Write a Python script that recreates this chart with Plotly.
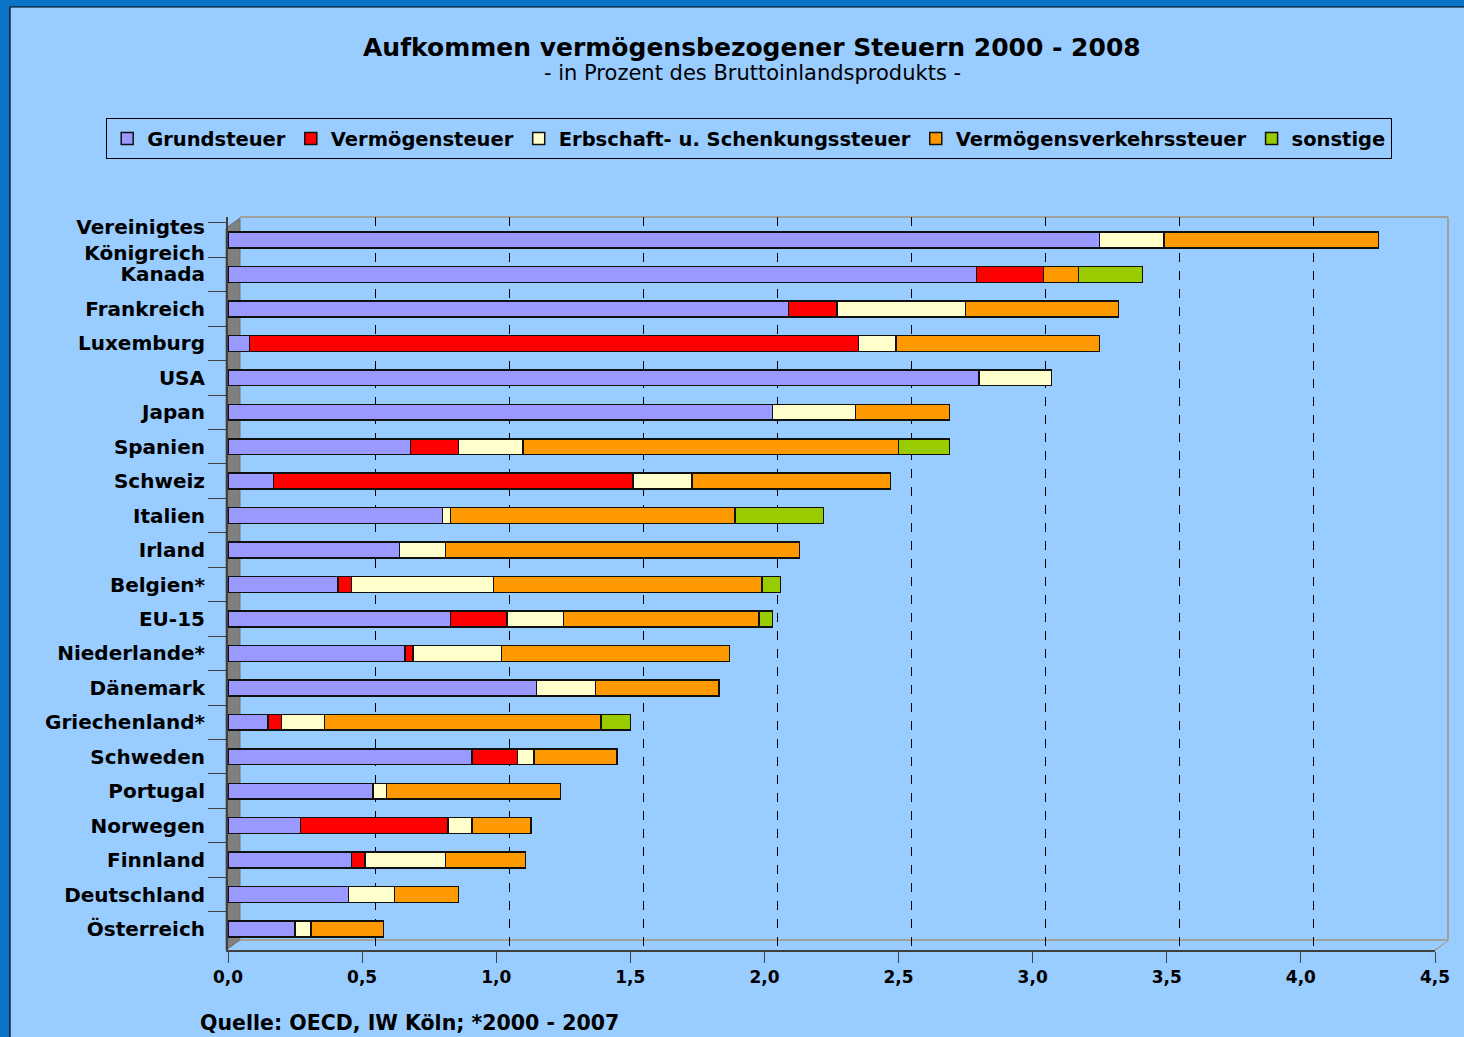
import plotly.graph_objects as go

countries = ["Vereinigtes<br>Königreich", "Kanada", "Frankreich", "Luxemburg", "USA", "Japan",
             "Spanien", "Schweiz", "Italien", "Irland", "Belgien*", "EU-15", "Niederlande*",
             "Dänemark", "Griechenland*", "Schweden", "Portugal", "Norwegen", "Finnland",
             "Deutschland", "Österreich"]

grundsteuer = [3.25, 2.79, 2.09, 0.08, 2.80, 2.03, 0.68, 0.17, 0.80, 0.64, 0.41, 0.83, 0.66,
               1.15, 0.15, 0.91, 0.54, 0.27, 0.46, 0.45, 0.25]
vermoegensteuer = [None, 0.25, 0.18, 2.27, None, None, 0.18, 1.34, None, None, 0.05, 0.21, 0.03,
                   None, 0.05, 0.17, None, 0.55, 0.05, None, None]
erbschaft = [0.24, None, 0.48, 0.14, 0.27, 0.31, 0.24, 0.22, 0.03, 0.17, 0.53, 0.21, 0.33,
             0.22, 0.16, 0.06, 0.05, 0.09, 0.30, 0.17, 0.06]
verkehr = [0.80, 0.13, 0.57, 0.76, None, 0.35, 1.40, 0.74, 1.06, 1.32, 1.00, 0.73, 0.85,
           0.46, 1.03, 0.31, 0.65, 0.22, 0.30, 0.24, 0.27]
sonstige = [None, 0.24, None, None, None, None, 0.19, None, 0.33, None, 0.07, 0.05, None,
            None, 0.11, None, None, None, None, None, None]

series_names = ["Grundsteuer", "Vermögensteuer", "Erbschaft- u. Schenkungssteuer",
                "Vermögensverkehrssteuer", "sonstige"]
series_values = [grundsteuer, vermoegensteuer, erbschaft, verkehr, sonstige]
series_colors = ["#9999FF", "#FF0000", "#FFFFCC", "#FF9900", "#99CC00"]

x_ticks = [0, 0.5, 1.0, 1.5, 2.0, 2.5, 3.0, 3.5, 4.0, 4.5]

W, H = 1464, 1037
L, R, T, B = 228, 29, 217, 87
PW, PH = W - L - R, H - T - B
FONT = "DejaVu Sans"


def px(xp):
    return (xp - L) / PW


def py(yp):
    return (H - B - yp) / PH


fig = go.Figure()
for name, vals, col in zip(series_names, series_values, series_colors):
    fig.add_trace(go.Bar(
        name=name, x=vals, y=countries, orientation="h", width=0.46,
        marker=dict(color=col, line=dict(color="#111111", width=1.5)),
    ))

# dummy trace for the offset back-wall grid axis
fig.add_trace(go.Scatter(x=[None], y=[None], xaxis="x2", showlegend=False, hoverinfo="skip"))

depth = 13 / 268.2

shapes = []
# outer dark blue frame
shapes.append(dict(type="rect", xref="paper", yref="paper", x0=px(0), x1=px(10), y0=py(H), y1=py(0),
                   fillcolor="#0A74C6", line=dict(width=0), layer="below"))
shapes.append(dict(type="rect", xref="paper", yref="paper", x0=px(0), x1=px(W), y0=py(7), y1=py(0),
                   fillcolor="#0A74C6", line=dict(width=0), layer="below"))
shapes.append(dict(type="line", xref="paper", yref="paper", x0=px(10), x1=px(10), y0=py(H), y1=py(7),
                   line=dict(color="#000000", width=1.2)))
shapes.append(dict(type="line", xref="paper", yref="paper", x0=px(10), x1=px(W), y0=py(7), y1=py(7),
                   line=dict(color="#000000", width=1.2)))
# left 3D wall
shapes.append(dict(type="path", xref="paper", yref="paper",
                   path=f"M {px(226)},{py(228)} L {px(240)},{py(218)} L {px(240)},{py(940)} L {px(226)},{py(950)} Z",
                   fillcolor="#808080", line=dict(color="#707070", width=1), layer="below"))
# back wall outline
for (x0, y0, x1, y1) in [(240, 217, 1448, 217), (1448, 217, 1448, 940), (240, 940, 1448, 940),
                         (1448, 940, 1435, 950)]:
    shapes.append(dict(type="line", xref="paper", yref="paper", x0=px(x0), y0=py(y0), x1=px(x1), y1=py(y1),
                       line=dict(color="#A0A0A0", width=2), layer="below"))
# mask grid lines below the back floor (between floor and front axis)
shapes.append(dict(type="path", xref="paper", yref="paper",
                   path=f"M {px(240)},{py(941)} L {px(1447)},{py(941)} L {px(1435)},{py(949)} L {px(229)},{py(949)} Z",
                   fillcolor="#99CCFF", line=dict(width=0), layer="below"))

annotations = [
    dict(text="<b>Aufkommen vermögensbezogener Steuern 2000 - 2008</b>", xref="paper", yref="paper",
         x=px(751.5), y=py(47), xanchor="center", yanchor="middle", showarrow=False,
         font=dict(family=FONT, size=25, color="#000000")),
    dict(text="- in Prozent des Bruttoinlandsprodukts -", xref="paper", yref="paper",
         x=px(752.5), y=py(73), xanchor="center", yanchor="middle", showarrow=False,
         font=dict(family=FONT, size=21, color="#000000")),
    dict(text="<b>Quelle: OECD, IW Köln; *2000 - 2007</b>", xref="paper", yref="paper",
         x=px(198), y=py(1023), xanchor="left", yanchor="middle", showarrow=False,
         font=dict(family=FONT, size=20.5, color="#000000")),
]

fig.update_layout(
    width=W, height=H,
    margin=dict(l=L, r=R, t=T, b=B, pad=0),
    paper_bgcolor="#99CCFF", plot_bgcolor="rgba(0,0,0,0)",
    barmode="stack", separators=", ",
    showlegend=True,
    legend=dict(orientation="h", xref="paper", yref="paper", x=px(106), y=py(118),
                xanchor="left", yanchor="top", traceorder="normal",
                bgcolor="rgba(0,0,0,0)", bordercolor="#000000", borderwidth=1.2,
                font=dict(family=FONT, size=19.5, color="#000000", weight="bold"),
                itemwidth=30),
    xaxis=dict(range=[0, 4.5], tickvals=x_ticks, tickformat=".1f", showgrid=False, zeroline=False,
               showline=True, linecolor="#404040", linewidth=2, ticks="outside", ticklen=11,
               tickcolor="#404040", tickwidth=1.2,
               tickfont=dict(family=FONT, size=17, color="#000000", weight="bold")),
    xaxis2=dict(overlaying="x", range=[-depth, 4.5 - depth], tickvals=x_ticks[1:-1], showgrid=True,
                gridcolor="#000000", griddash="dash", gridwidth=1, showticklabels=False, ticks="",
                showline=False, zeroline=False),
    yaxis=dict(type="category", categoryorder="array", categoryarray=countries,
               range=[20.61, -0.668], ticks="outside", tickson="boundaries", ticklen=18,
               tickcolor="#404040", tickwidth=1.2, showline=True, linecolor="#404040", linewidth=2,
               showgrid=False, zeroline=False, ticklabelstandoff=17,
               tickfont=dict(family=FONT, size=20, color="#000000", weight="bold")),
    shapes=shapes, annotations=annotations,
)

fig.write_html("out.html", config={"displayModeBar": False},
               post_script="document.body.style.margin='0';document.body.style.padding='0';"
                           "document.body.style.background='#99CCFF';")
